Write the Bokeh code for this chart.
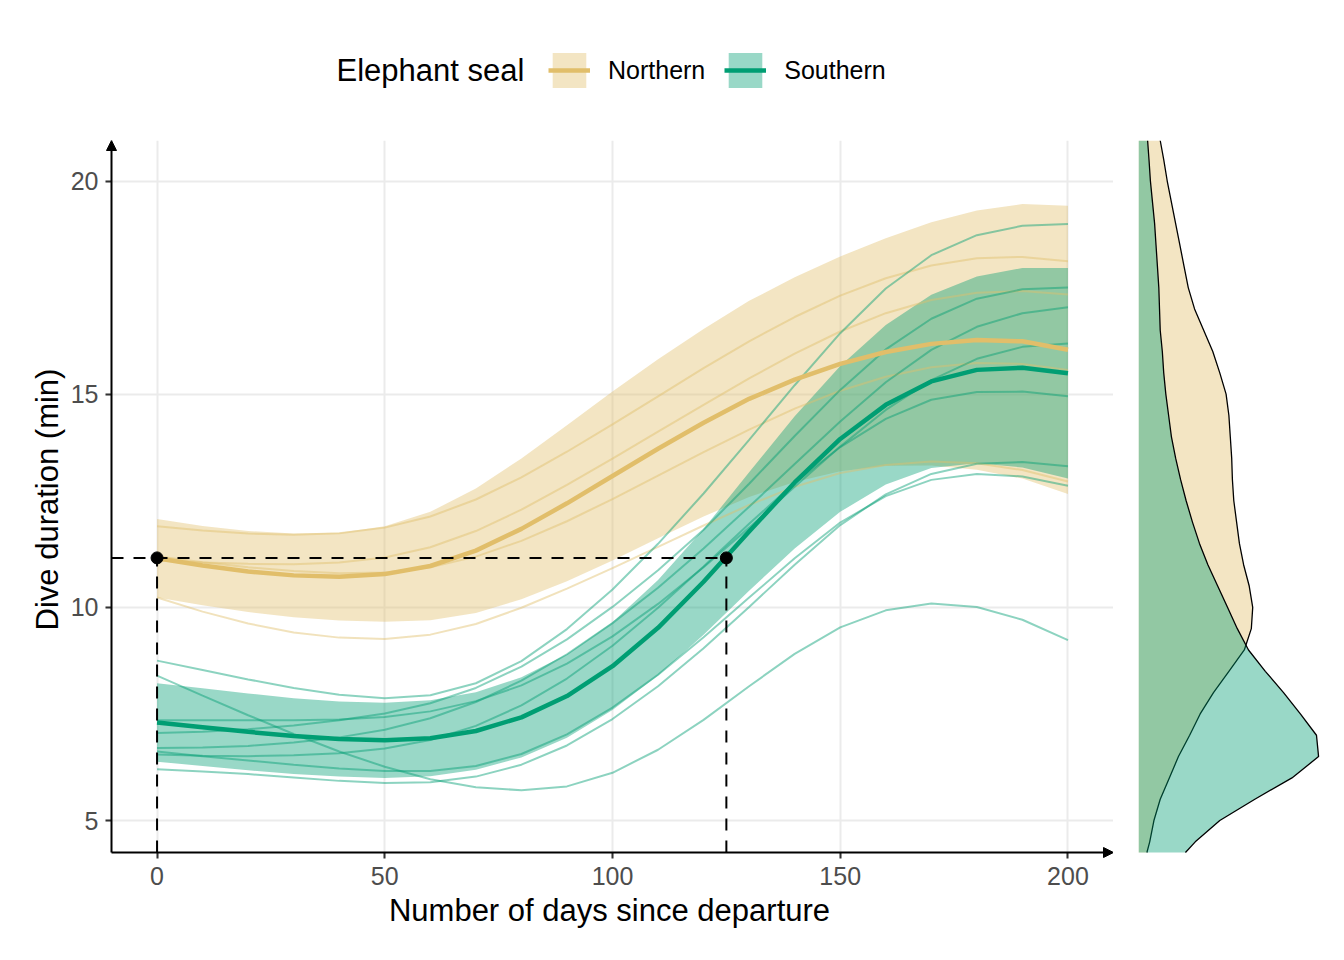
from bokeh.plotting import figure
from bokeh.models import Range1d, Arrow, NormalHead, Legend, LegendItem, Label
from bokeh.layouts import row, column
from bokeh.embed import file_html
from bokeh.resources import INLINE

# ---------------- data ----------------
days = [0, 10, 20, 30, 40, 50, 60, 70, 80, 90, 100,
        110, 120, 130, 140, 150, 160, 170, 180, 190, 200]

north_mean = [11.15, 10.98, 10.84, 10.75, 10.72, 10.78, 10.97, 11.33, 11.84, 12.44, 13.08,
              13.72, 14.33, 14.89, 15.34, 15.71, 15.99, 16.18, 16.27, 16.24, 16.04]
north_lower = [10.23, 10.05, 9.89, 9.77, 9.69, 9.66, 9.70, 9.87, 10.19, 10.61, 11.10,
               11.62, 12.13, 12.59, 12.94, 13.19, 13.32, 13.33, 13.23, 13.02, 12.66]
north_upper = [12.07, 11.91, 11.79, 11.73, 11.75, 11.90, 12.24, 12.79, 13.49, 14.27, 15.06,
               15.82, 16.53, 17.19, 17.74, 18.23, 18.66, 19.03, 19.31, 19.46, 19.42]

south_mean = [7.30, 7.19, 7.08, 6.98, 6.91, 6.88, 6.93, 7.10, 7.42, 7.92, 8.62,
              9.52, 10.60, 11.78, 12.93, 13.95, 14.75, 15.30, 15.57, 15.62, 15.49]
south_lower = [6.38, 6.28, 6.18, 6.09, 6.03, 6.00, 6.04, 6.19, 6.48, 6.94, 7.59,
               8.40, 9.36, 10.39, 11.38, 12.24, 12.88, 13.27, 13.38, 13.28, 13.02]
south_upper = [8.22, 8.10, 7.98, 7.87, 7.79, 7.76, 7.82, 8.01, 8.36, 8.90, 9.65,
               10.64, 11.84, 13.17, 14.48, 15.66, 16.62, 17.33, 17.76, 17.96, 17.96]

# individual northern seals
north_ind = [
    [11.90, 11.80, 11.73, 11.70, 11.74, 11.87, 12.13, 12.53, 13.05, 13.65, 14.29,
     14.95, 15.61, 16.24, 16.81, 17.31, 17.72, 18.02, 18.19, 18.22, 18.12],
    [11.10, 11.05, 11.02, 11.01, 11.05, 11.17, 11.41, 11.79, 12.29, 12.87, 13.49,
     14.12, 14.75, 15.37, 15.95, 16.47, 16.90, 17.21, 17.38, 17.42, 17.34],
    [11.20, 11.06, 10.94, 10.85, 10.80, 10.82, 10.94, 11.19, 11.56, 12.02, 12.54,
     13.09, 13.64, 14.17, 14.66, 15.08, 15.41, 15.63, 15.73, 15.71, 15.57],
    [10.23, 9.90, 9.62, 9.41, 9.29, 9.26, 9.36, 9.61, 9.99, 10.44, 10.92,
     11.42, 11.92, 12.40, 12.83, 13.15, 13.34, 13.42, 13.38, 13.22, 12.95],
]

# individual southern seals
south_ind = [
    [8.75, 8.53, 8.31, 8.11, 7.95, 7.87, 7.94, 8.22, 8.74, 9.49, 10.42,
     11.49, 12.67, 13.93, 15.21, 16.43, 17.48, 18.26, 18.73, 18.95, 18.99],
    [7.05, 7.08, 7.14, 7.23, 7.35, 7.51, 7.75, 8.11, 8.61, 9.25, 10.01,
     10.87, 11.82, 12.90, 14.02, 15.10, 16.05, 16.77, 17.24, 17.46, 17.50],
    [6.70, 6.71, 6.75, 6.83, 6.95, 7.13, 7.40, 7.78, 8.28, 8.90, 9.63,
     10.46, 11.38, 12.36, 13.36, 14.36, 15.28, 16.04, 16.58, 16.90, 17.04],
    [7.35, 7.35, 7.35, 7.35, 7.37, 7.43, 7.56, 7.80, 8.17, 8.68, 9.32,
     10.08, 10.94, 11.87, 12.83, 13.77, 14.63, 15.33, 15.83, 16.11, 16.19],
    [6.55, 6.52, 6.51, 6.53, 6.58, 6.69, 6.89, 7.22, 7.70, 8.33, 9.10,
     9.99, 10.96, 11.96, 12.92, 13.76, 14.42, 14.87, 15.05, 15.06, 14.95],
    [6.20, 6.15, 6.09, 6.01, 5.93, 5.88, 5.90, 6.03, 6.31, 6.76, 7.38,
     8.15, 9.04, 10.01, 11.00, 11.93, 12.65, 13.13, 13.37, 13.41, 13.31],
    [6.62, 6.51, 6.41, 6.31, 6.22, 6.16, 6.16, 6.28, 6.56, 7.02, 7.65,
     8.42, 9.30, 10.23, 11.15, 11.99, 12.61, 12.99, 13.13, 13.07, 12.85],
    [8.40, 7.93, 7.47, 7.03, 6.62, 6.26, 5.97, 5.78, 5.71, 5.80, 6.12,
     6.66, 7.36, 8.15, 8.91, 9.53, 9.93, 10.09, 10.01, 9.71, 9.23],
]

# guide: northern start value reached by southern seals at day 125
guide_days = [0, 125]
guide_value = 11.16

# marginal densities of dive duration
dens_y = [4.25, 4.5, 5.0, 5.5, 6.0, 6.5, 7.0, 7.5, 8.0, 8.5, 9.0, 9.5, 10.0, 10.5,
          11.0, 11.5, 12.0, 12.5, 13.0, 13.5, 14.0, 14.5, 15.0, 15.5, 16.0, 16.5,
          17.0, 17.5, 18.0, 18.5, 19.0, 19.5, 20.0, 20.5, 20.95]
north_dens = [0.012, 0.016, 0.022, 0.031, 0.044, 0.057, 0.073, 0.088, 0.107, 0.129, 0.151,
              0.161, 0.163, 0.158, 0.150, 0.144, 0.140, 0.136, 0.134, 0.133, 0.131, 0.129,
              0.125, 0.116, 0.106, 0.093, 0.080, 0.071, 0.065, 0.059, 0.053, 0.047, 0.041,
              0.036, 0.031]
south_dens = [0.067, 0.081, 0.116, 0.166, 0.219, 0.257, 0.254, 0.231, 0.207, 0.181, 0.157,
              0.141, 0.127, 0.113, 0.099, 0.087, 0.077, 0.068, 0.060, 0.053, 0.047, 0.043,
              0.039, 0.036, 0.034, 0.031, 0.030, 0.029, 0.027, 0.025, 0.023, 0.020, 0.017,
              0.015, 0.013]

x_ticks = [0, 50, 100, 150, 200]
y_ticks = [5, 10, 15, 20]
X_AXIS, X_HI = -10, 210        # axis line position / arrow tip
Y_AXIS, Y_HI = 4.25, 20.95

GOLD = "#E1BE6A"
GREEN = "#009E73"
FONT = "Liberation Sans"

# layout sizes (pixels)
LEG_H = 110
TICK = 6
FRAME_W, FRAME_H = 1002, 712   # from axis line to arrow tip
TOP = 30
BOTTOM = 90

x_lo = X_AXIS - TICK * (X_HI - X_AXIS) / FRAME_W
y_lo = Y_AXIS - TICK * (Y_HI - Y_AXIS) / FRAME_H

# ---------------- legend strip ----------------
# key renderers reuse the series; the strip's ranges keep them out of view
lf = figure(width=1330, height=LEG_H, x_range=Range1d(0, 1), y_range=Range1d(0, 1),
            output_backend="svg", toolbar_location=None,
            x_axis_location=None, y_axis_location=None,
            min_border_left=0, min_border_right=0, min_border_top=0, min_border_bottom=0)
lf.outline_line_color = None
lf.grid.visible = False
k_nb = lf.varea(x=days, y1=north_lower, y2=north_upper, fill_color=GOLD, fill_alpha=0.4)
k_nm = lf.line(x=days, y=north_mean, line_color=GOLD, line_width=4.5)
k_sb = lf.varea(x=days, y1=south_lower, y2=south_upper, fill_color=GREEN, fill_alpha=0.4)
k_sm = lf.line(x=days, y=south_mean, line_color=GREEN, line_width=4.5)
legend = Legend(items=[LegendItem(label="Northern", renderers=[k_nb, k_nm]),
                       LegendItem(label="Southern", renderers=[k_sb, k_sm])],
                orientation="horizontal", location=(548, 18),
                glyph_width=42, glyph_height=44, label_standoff=18, spacing=19,
                padding=0, margin=0, border_line_color=None,
                background_fill_alpha=0.0,
                label_text_font=FONT, label_text_font_size="25px",
                label_text_color="black")
lf.add_layout(legend)
lf.add_layout(Label(x=336, y=40, x_units="screen", y_units="screen",
                    text="Elephant seal", text_font=FONT, text_font_size="31px",
                    text_baseline="middle", text_color="black"))

# ---------------- main panel ----------------
p = figure(frame_width=FRAME_W + TICK, frame_height=FRAME_H + TICK,
           x_range=Range1d(x_lo, X_HI), y_range=Range1d(y_lo, Y_HI),
           output_backend="svg", toolbar_location=None,
           min_border_left=105, min_border_top=TOP, min_border_bottom=BOTTOM,
           min_border_right=0)
p.outline_line_color = None
p.background_fill_color = "white"
p.border_fill_color = "white"

for ax in (p.xaxis, p.yaxis):
    ax.axis_line_color = None
    ax.major_tick_line_color = "#333333"
    ax.major_tick_line_width = 2
    ax.major_tick_out = 0
    ax.major_tick_in = TICK
    ax.minor_tick_line_color = None
    ax.major_label_text_font = FONT
    ax.major_label_text_font_size = "25px"
    ax.major_label_text_color = "#4D4D4D"
    ax.axis_label_text_font = FONT
    ax.axis_label_text_font_size = "31px"
    ax.axis_label_text_font_style = "normal"
    ax.axis_label_text_color = "black"
p.xaxis.ticker = x_ticks
p.yaxis.ticker = y_ticks
p.xaxis.axis_label = "Number of days since departure"
p.yaxis.axis_label = "Dive duration (min)"
p.xaxis.major_label_standoff = 8
p.yaxis.major_label_standoff = 7
p.xaxis.axis_label_standoff = 5
p.yaxis.axis_label_standoff = 3

p.xgrid.ticker = x_ticks
p.ygrid.ticker = y_ticks
p.grid.grid_line_color = "#EBEBEB"
p.grid.grid_line_width = 2

# ribbons
p.varea(x=days, y1=north_lower, y2=north_upper, fill_color=GOLD, fill_alpha=0.4)
p.varea(x=days, y1=south_lower, y2=south_upper, fill_color=GREEN, fill_alpha=0.4)

# individual tracks
p.multi_line(xs=[days] * len(north_ind), ys=north_ind, line_color=GOLD,
             line_alpha=0.45, line_width=2)
p.multi_line(xs=[days] * len(south_ind), ys=south_ind, line_color=GREEN,
             line_alpha=0.45, line_width=2)

# population means
p.line(days, north_mean, line_color=GOLD, line_width=4.5)
p.line(days, south_mean, line_color=GREEN, line_width=4.5)

# dashed guides
p.line([X_AXIS, guide_days[1]], [guide_value, guide_value], line_color="black",
       line_width=2, line_dash="12 10")
for gd in guide_days:
    p.line([gd, gd], [Y_AXIS, guide_value], line_color="black", line_width=2,
           line_dash="12 10")
p.scatter(guide_days, [guide_value] * len(guide_days), size=12, color="black")

# axis lines with arrow heads
p.add_layout(Arrow(end=NormalHead(size=10, fill_color="black", line_color="black"),
                   x_start=X_AXIS, y_start=Y_AXIS, x_end=X_AXIS, y_end=Y_HI,
                   line_width=2, line_color="black"))
p.add_layout(Arrow(end=NormalHead(size=10, fill_color="black", line_color="black"),
                   x_start=X_AXIS, y_start=Y_AXIS, x_end=X_HI, y_end=Y_AXIS,
                   line_width=2, line_color="black"))

# ---------------- marginal density panel ----------------
p2 = figure(frame_width=192, frame_height=FRAME_H + TICK,
            x_range=Range1d(0, 0.274), y_range=p.y_range,
            output_backend="svg", toolbar_location=None,
            x_axis_location=None, y_axis_location=None,
            min_border_left=25, min_border_top=TOP, min_border_bottom=BOTTOM,
            min_border_right=0)
p2.outline_line_color = None
p2.grid.visible = False
p2.background_fill_color = "white"
p2.border_fill_color = "white"

p2.harea(x1=0, x2=north_dens, y=dens_y, fill_color=GOLD, fill_alpha=0.4)
p2.line(north_dens, dens_y, line_color="black", line_width=1.3)
p2.harea(x1=0, x2=south_dens, y=dens_y, fill_color=GREEN, fill_alpha=0.4)
p2.line(south_dens, dens_y, line_color="black", line_width=1.3)

layout = column(lf, row(p, p2))
open("out.html", "w").write(file_html(layout, INLINE))
